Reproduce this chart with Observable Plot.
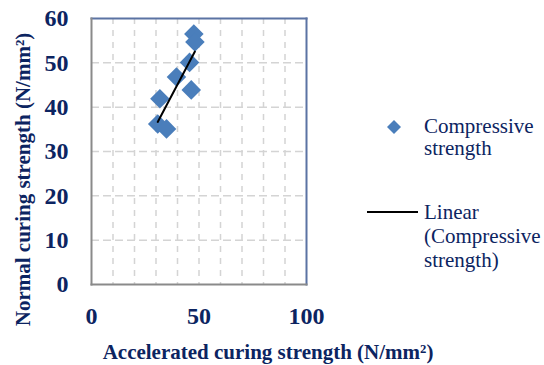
<!DOCTYPE html>
<html>
<head>
<meta charset="utf-8">
<script src="https://cdn.jsdelivr.net/npm/d3@7"></script>
<script src="https://cdn.jsdelivr.net/npm/@observablehq/plot@0.6"></script>
<style>
  html, body { margin: 0; padding: 0; background: #fff; }
  #wrap { position: relative; width: 544px; height: 365px; }
  .legend { position: absolute; font-family: "Liberation Serif", "Times New Roman", serif; font-size: 21px; color: #0c2461; line-height: 22px; }
</style>
</head>
<body>
<div id="wrap"></div>
<script>
// Data
const accelerated = [47.6, 48.1, 45.6, 39.5, 46.4, 31.8, 30.8, 34.9];
const normal      = [56.5, 54.7, 50.1, 46.8, 43.9, 41.9, 36.2, 35.1];
const xTicks = [0, 50, 100];
const yTicks = [0, 10, 20, 30, 40, 50, 60];
const gridTicks = [10, 20, 30, 40, 50, 60, 70, 80, 90];
const gridTicksY = [10, 20, 30, 40, 50];
const xTitle = "Accelerated curing strength (N/mm²)";
const yTitle = "Normal curing strength (N/mm²)";
const seriesName = "Compressive strength";
const trendName = "Linear (Compressive strength)";

const data = accelerated.map((a, i) => ({ a, n: normal[i] }));
const navy = "#0c2461";
const blue = "#4a7ebb";
const serif = "Liberation Serif, Times New Roman, serif";

const chart = Plot.plot({
  width: 544,
  height: 365,
  marginLeft: 91,
  marginRight: 238,
  marginTop: 18,
  marginBottom: 81,
  style: { fontFamily: serif, background: "#fff", overflow: "visible" },
  x: { domain: [0, 100] },
  y: { domain: [0, 60] },
  marks: [
    Plot.ruleX(gridTicks, { stroke: "#d4d4d4", strokeWidth: 1.5, strokeDasharray: "6,6" }),
    Plot.ruleY(gridTicksY, { stroke: "#d4d4d4", strokeWidth: 1.5, strokeDasharray: "8,4" }),
    Plot.axisX({ ticks: xTicks, tickSize: 0, tickPadding: 22, fontSize: 24, fontWeight: "bold", fill: navy, label: null }),
    Plot.axisY({ ticks: yTicks, tickSize: 0, tickPadding: 23, fontSize: 24, fontWeight: "bold", fill: navy, label: null }),
    Plot.frame({ anchor: "top", stroke: "#5b73a3", strokeWidth: 2 }),
    Plot.frame({ anchor: "right", stroke: "#5b73a3", strokeWidth: 2 }),
    Plot.frame({ anchor: "left", stroke: "#8a8a8a", strokeWidth: 2 }),
    Plot.frame({ anchor: "bottom", stroke: "#8a8a8a", strokeWidth: 2 }),
    Plot.dot(data, { x: "a", y: "n", symbol: "diamond2", r: 8.8, fill: blue, stroke: "none" }),
    Plot.linearRegressionY(data, { x: "a", y: "n", stroke: "#000", strokeWidth: 2, ci: 0 }),
    Plot.text([xTitle], { frameAnchor: "bottom", textAnchor: "middle", lineAnchor: "middle", dx: 69, dy: 68, fontSize: 21, fontWeight: "bold", fill: navy }),
    Plot.text([yTitle], { frameAnchor: "left", textAnchor: "middle", lineAnchor: "middle", rotate: -90, dx: -68, dy: 28, fontSize: 21, fontWeight: "bold", fill: navy })
  ]
});
const wrap = document.getElementById("wrap");
wrap.appendChild(chart);

// Legend (HTML overlay at right)
const leg1 = document.createElement("div");
leg1.className = "legend";
leg1.style.left = "384px"; leg1.style.top = "115px";
leg1.innerHTML = `<svg width="20" height="20" style="position:absolute;left:0;top:2px"><path d="M10,3L17,10L10,17L3,10Z" fill="${blue}"/></svg>
<div style="position:absolute;left:40px;top:0;width:150px">${seriesName.split(" ").join("<br>")}</div>`;
wrap.appendChild(leg1);

const leg2 = document.createElement("div");
leg2.className = "legend";
leg2.style.left = "367px"; leg2.style.top = "200px";
leg2.innerHTML = `<svg width="52" height="24" style="position:absolute;left:0;top:0"><line x1="0" x2="51" y1="12" y2="12" stroke="#000" stroke-width="2"/></svg>
<div style="position:absolute;left:57px;top:0;width:150px;line-height:24px">${trendName.replace(" (", "<br>(").replace(" strength)", "<br>strength)")}</div>`;
wrap.appendChild(leg2);
</script>
</body>
</html>
